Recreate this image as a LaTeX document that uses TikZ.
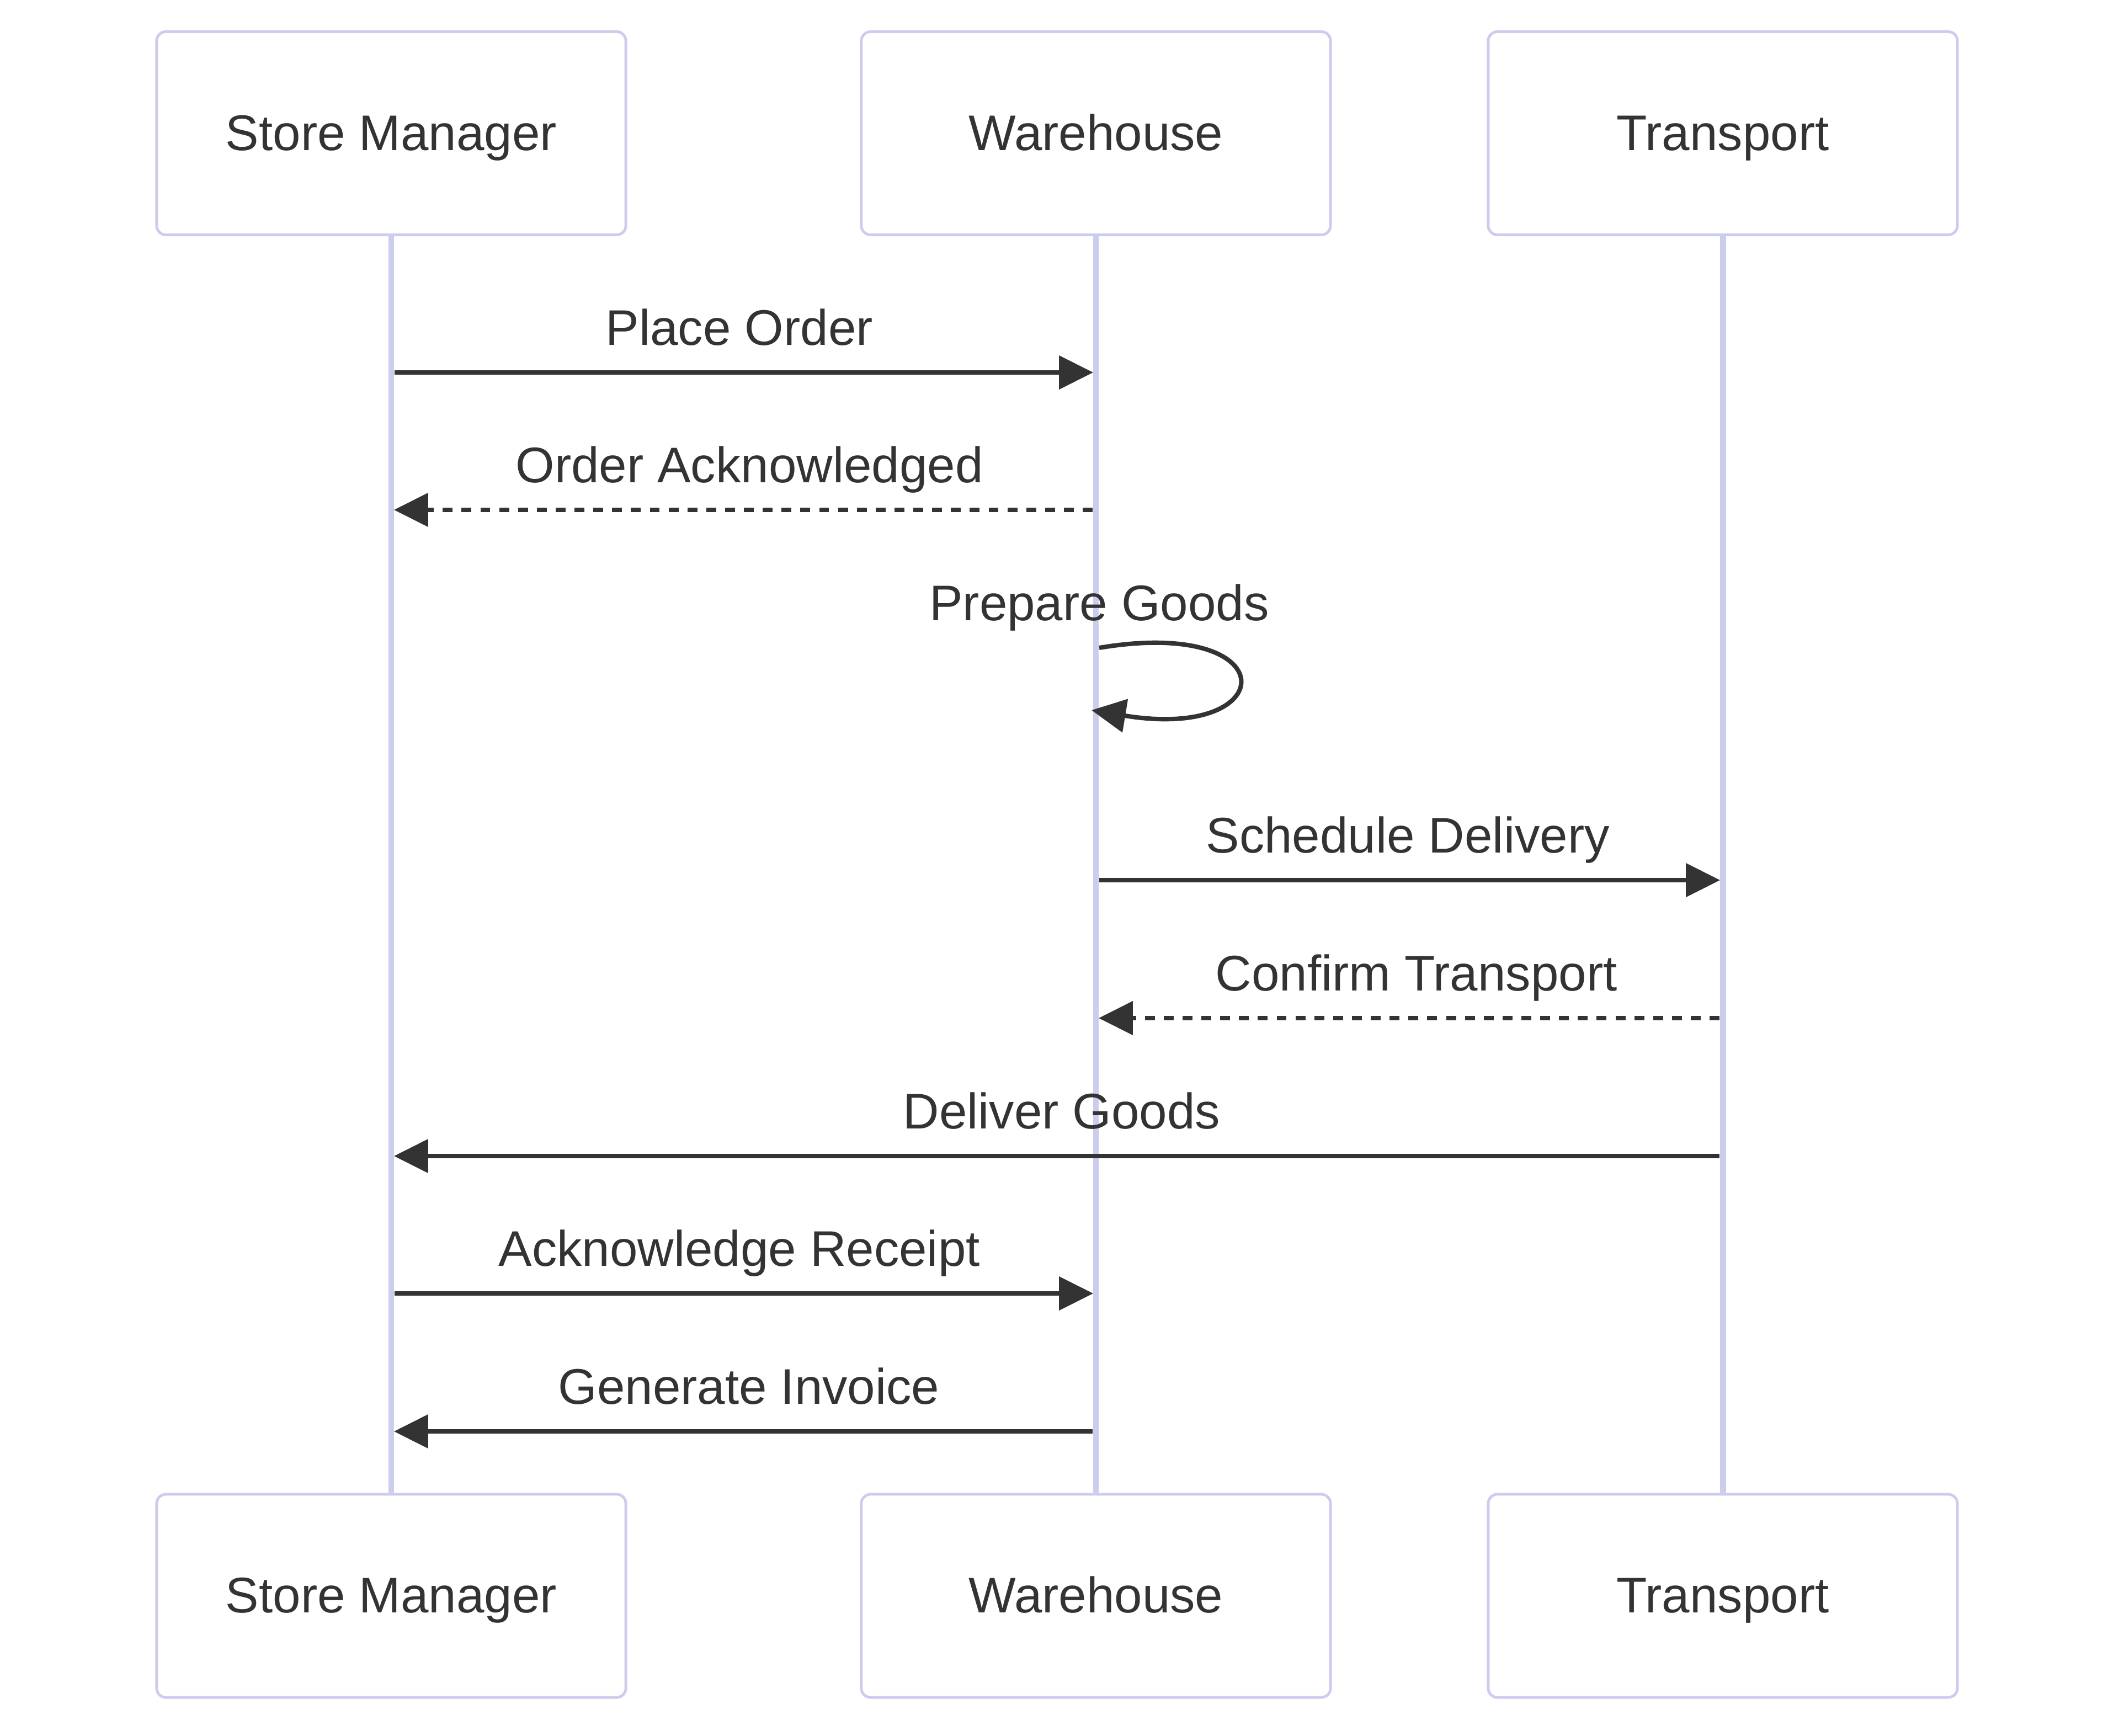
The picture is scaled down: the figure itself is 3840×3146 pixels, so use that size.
\documentclass[tikz,border=0pt]{standalone}
\usepackage{fontspec}
\setmainfont{Liberation Sans}
\usetikzlibrary{
		arrows.meta,
		positioning
	}
\definecolor{lifeclr}{RGB}{204,204,238}
\definecolor{inkclr}{RGB}{51,51,51}
\tikzset{
		>={Triangle[length=17.6pt, width=17pt]},
		actor/.style={draw=lifeclr, line width=1.4pt, fill=white, rounded corners=4.8pt,
			minimum width=241.8pt, minimum height=104.7pt, inner sep=0pt,
			text height=17.4pt, text depth=0pt, text=inkclr, font=\fontsize{25.8}{31}\selectfont},
		life/.style={draw=lifeclr, line width=3.1pt},
		msg/.style={draw=inkclr, line width=2.3pt, ->, shorten <=1.7pt, shorten >=1.4pt},
		reply/.style={msg, dash pattern=on 5.1pt off 4.6pt},
		lbl/.style={anchor=base, yshift=14.2pt, text=inkclr, font=\fontsize{25.8}{31}\selectfont}
	}

\begin{document}
\begin{tikzpicture}[x=0.01cm, y=-0.01cm]
		\useasboundingbox (0,0) rectangle (3840,3146);
		% participants
		\node[actor] (sm) at (709,241.5) {Store Manager};
		\node[actor] (wh) at (1986,241.5) {Warehouse};
		\node[actor] (tr) at (3122,241.5) {Transport};
		\node[actor] (smb) at (709,2892) {Store Manager};
		\node[actor] (whb) at (1986,2892) {Warehouse};
		\node[actor] (trb) at (3122,2892) {Transport};
		\draw[life] (sm.south) -- (smb.north);
		\draw[life] (wh.south) -- (whb.north);
		\draw[life] (tr.south) -- (trb.north);
		% messages
		\draw[msg] (sm |- 0,675) -- (wh |- 0,675) node[lbl, midway, xshift=-2.2pt] {Place Order};
		\draw[reply] (wh |- 0,924) -- (sm |- 0,924) node[lbl, midway, xshift=3pt] {Order Acknowledged};
		\coordinate (loopS) at (1992,1174); \coordinate (loopE) at (1978,1287);
		\draw[msg, shorten <=0pt, shorten >=0pt] (loopS) node[lbl] {Prepare Goods} .. controls +(340,-57) and +(345,57) .. (loopE);
		\draw[msg] (wh |- 0,1595) -- (tr |- 0,1595) node[lbl, midway, xshift=-0.8pt] {Schedule Delivery};
		\draw[reply] (tr |- 0,1845) -- (wh |- 0,1845) node[lbl, midway, xshift=3.6pt] {Confirm Transport};
		\draw[msg] (tr |- 0,2095) -- (sm |- 0,2095) node[lbl, midway, xshift=2.4pt] {Deliver Goods};
		\draw[msg] (sm |- 0,2344) -- (wh |- 0,2344) node[lbl, midway, xshift=-2.2pt] {Acknowledge Receipt};
		\draw[msg] (wh |- 0,2594) -- (sm |- 0,2594) node[lbl, midway, xshift=2.7pt] {Generate Invoice};
	\end{tikzpicture}
\end{document}
